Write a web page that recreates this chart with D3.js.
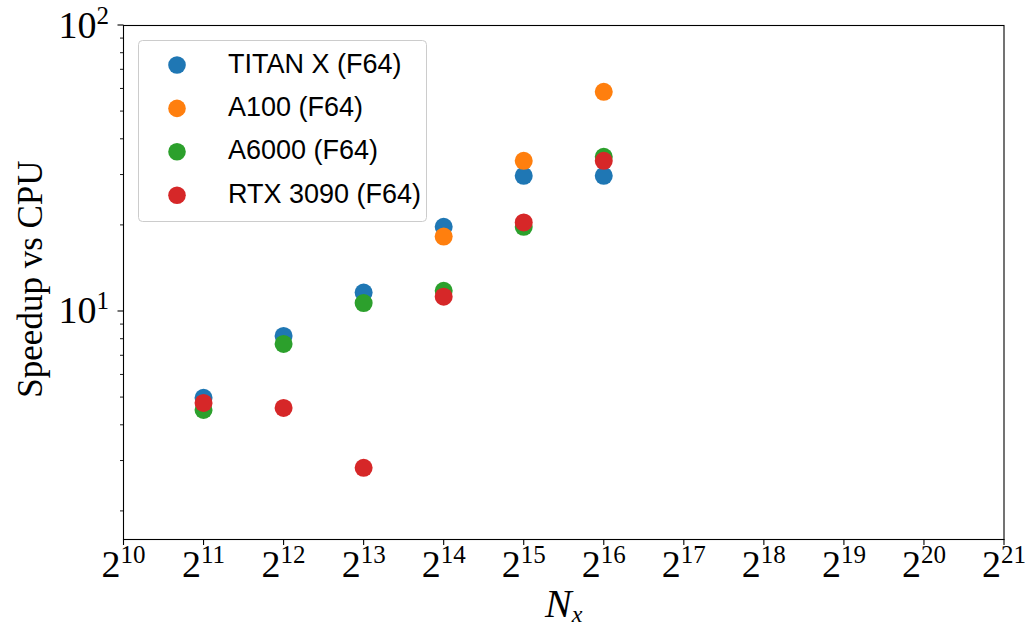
<!DOCTYPE html>
<html>
<head>
<meta charset="utf-8">
<script src="https://cdn.jsdelivr.net/npm/d3@7"></script>
<style>
  html, body { margin: 0; padding: 0; background: #fff; }
  svg { display: block; }
  .tick-label { font-family: "Liberation Serif", "DejaVu Serif", serif; fill: #000; }
  .legend-label { font-family: "Liberation Sans", Arial, sans-serif; font-size: 27px; fill: #000; }
</style>
</head>
<body>
<div id="chart"></div>
<script>
const exponents = [11, 12, 13, 14, 15, 16];
const titanX = [4.97, 8.18, 11.6, 19.7, 29.7, 29.7];
const a100 = [null, null, null, 18.2, 33.5, 58.4];
const a6000 = [4.51, 7.67, 10.66, 11.77, 19.7, 34.6];
const rtx3090 = [4.77, 4.58, 2.83, 11.22, 20.4, 33.5];
const seriesNames = ["TITAN X (F64)", "A100 (F64)", "A6000 (F64)", "RTX 3090 (F64)"];
const seriesColors = ["#1f77b4", "#ff7f0e", "#2ca02c", "#d62728"];
const xTickExponents = [10, 11, 12, 13, 14, 15, 16, 17, 18, 19, 20, 21];
const yMajorExponents = [1, 2];

const width = 1025, height = 628;
const margin = { top: 25, right: 21, bottom: 89, left: 123.5 };

const svg = d3.select("#chart").append("svg").attr("width", width).attr("height", height);

const x = d3.scaleLog().base(2).domain([2 ** 10, 2 ** 21]).range([margin.left, width - margin.right]);
const y = d3.scaleLog().domain([1.595, 100]).range([height - margin.bottom, margin.top]);

const allSeries = [titanX, a100, a6000, rtx3090].map((vals, i) => ({
    name: seriesNames[i],
    color: seriesColors[i],
    points: vals.map((v, j) => ({ n: 2 ** exponents[j], v })).filter(p => p.v !== null)
}));

// axes frame
const plot = svg.append("g");
plot.append("rect")
    .attr("x", margin.left).attr("y", margin.top + 0.5)
    .attr("width", x.range()[1] - margin.left).attr("height", y.range()[0] - margin.top)
    .attr("fill", "none").attr("stroke", "#000").attr("stroke-width", 1.1);

// x ticks
const xTicks = svg.append("g");
xTickExponents.forEach(e => {
    const px = x(2 ** e);
    xTicks.append("line").attr("x1", px).attr("x2", px)
        .attr("y1", y.range()[0]).attr("y2", y.range()[0] + 6)
        .attr("stroke", "#000").attr("stroke-width", 1.1);
    const t = xTicks.append("text").attr("class", "tick-label")
        .attr("x", px).attr("y", 577).attr("text-anchor", "middle");
    t.append("tspan").attr("font-size", 38).text("2");
    t.append("tspan").attr("font-size", 25).attr("dy", -14).text(e);
});

// y ticks (major + minor)
const yTicks = svg.append("g");
const minorVals = [];
[1, 10].forEach(dec => d3.range(2, 10).forEach(k => {
    const v = dec * k;
    if (v >= y.domain()[0] && v <= y.domain()[1]) minorVals.push(v);
}));
minorVals.forEach(v => {
    yTicks.append("line").attr("x1", margin.left - 3.5).attr("x2", margin.left)
        .attr("y1", y(v)).attr("y2", y(v)).attr("stroke", "#000").attr("stroke-width", 0.9);
});
yMajorExponents.forEach(e => {
    const py = y(10 ** e);
    yTicks.append("line").attr("x1", margin.left - 6).attr("x2", margin.left)
        .attr("y1", py).attr("y2", py).attr("stroke", "#000").attr("stroke-width", 1.1);
    const t = yTicks.append("text").attr("class", "tick-label")
        .attr("x", 109).attr("y", py + 12.5).attr("text-anchor", "end");
    t.append("tspan").attr("font-size", 38).text("10");
    t.append("tspan").attr("font-size", 25).attr("dy", -14).text(e);
});

// axis labels
svg.append("text").attr("class", "tick-label")
    .attr("transform", "translate(42,279) rotate(-90)")
    .attr("text-anchor", "middle").attr("font-size", 35)
    .text("Speedup vs CPU");
const xl = svg.append("text").attr("class", "tick-label")
    .attr("x", (margin.left + x.range()[1]) / 2).attr("y", 617)
    .attr("text-anchor", "middle").attr("font-style", "italic");
xl.append("tspan").attr("font-size", 40).text("N");
xl.append("tspan").attr("font-size", 24).attr("dy", 5).text("x");

// points
allSeries.forEach(s => {
    svg.append("g").selectAll("circle").data(s.points).join("circle")
        .attr("cx", d => x(d.n))
        .attr("cy", d => y(d.v))
        .attr("r", 9)
        .attr("fill", s.color);
});

// legend
const legend = svg.append("g");
legend.append("rect")
    .attr("x", 138.5).attr("y", 40.5).attr("width", 288).attr("height", 181).attr("rx", 4)
    .attr("fill", "#fff").attr("fill-opacity", 0.8)
    .attr("stroke", "#cccccc").attr("stroke-width", 1);
allSeries.forEach((s, i) => {
    const ly = 65 + i * 43.4;
    legend.append("circle").attr("cx", 177).attr("cy", ly).attr("r", 8.8).attr("fill", s.color);
    legend.append("text").attr("class", "legend-label")
        .attr("x", 228).attr("y", ly + 7.5).text(s.name);
});
</script>
</body>
</html>
